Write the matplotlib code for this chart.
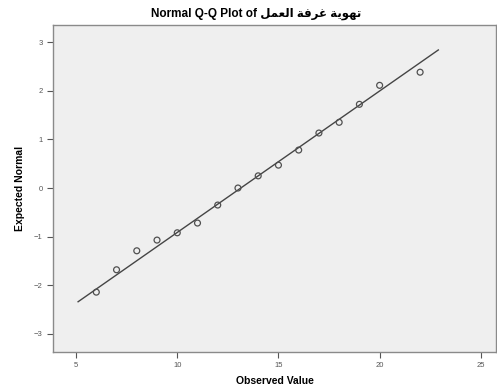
import matplotlib.pyplot as plt
import numpy as np

observed = [6, 7, 8, 9, 10, 11, 12, 13, 14, 15, 16, 17, 18, 19, 20, 22]
expected = [-2.14, -1.68, -1.29, -1.07, -0.92, -0.72, -0.35, 0.0,
            0.25, 0.47, 0.78, 1.13, 1.35, 1.72, 2.11, 2.38]

# reference line: y = (x - mean) / sd
line_mean = 13.14
line_sd = 3.44
line_x = [5.1, 22.9]

x_ticks = [5, 10, 15, 20, 25]
y_ticks = [-3, -2, -1, 0, 1, 2, 3]

# Arabic part of the title, already shaped and in visual order
arabic = "\uFEDE\uFEE4\uFECC\uFEDF\uFE8D \uFE94\uFED3\uFEAE\uFECF \uFE94\uFEF3\uFEEE\uFEEC\uFE97"
title = "Normal Q-Q Plot of " + arabic

plt.rcParams['font.family'] = ['Liberation Sans', 'DejaVu Sans']

fig = plt.figure(figsize=(4.97, 3.92), dpi=100)
ax = fig.add_axes([53 / 497, 40 / 392, 443 / 497, 327 / 392])
ax.set_facecolor('#efefef')

lx = np.array(line_x)
ax.plot(lx, (lx - line_mean) / line_sd, color='#454545', lw=1.0)
ax.scatter(observed, expected, s=18, facecolors='none', edgecolors='#505050',
           linewidths=0.9, zorder=3)

ax.set_xlim(3.86, 25.75)
ax.set_ylim(-3.37, 3.35)
ax.set_xticks(x_ticks)
ax.set_yticks(y_ticks)
ax.tick_params(labelsize=5.5, labelcolor='#555555', color='#555555',
               length=4, width=0.8)

for s in ax.spines.values():
    s.set_color('#8a8a8a')
    s.set_linewidth(1.0)

fig.text(256 / 497, 1 - 14 / 392, title, fontsize=8.5, fontweight='bold',
         ha='center', va='center')
ax.set_xlabel("Observed Value", fontsize=7.5, fontweight='bold', labelpad=5)
ax.set_ylabel("Expected Normal", fontsize=7.5, fontweight='bold', labelpad=6)

fig.savefig("out.png", dpi=100)
